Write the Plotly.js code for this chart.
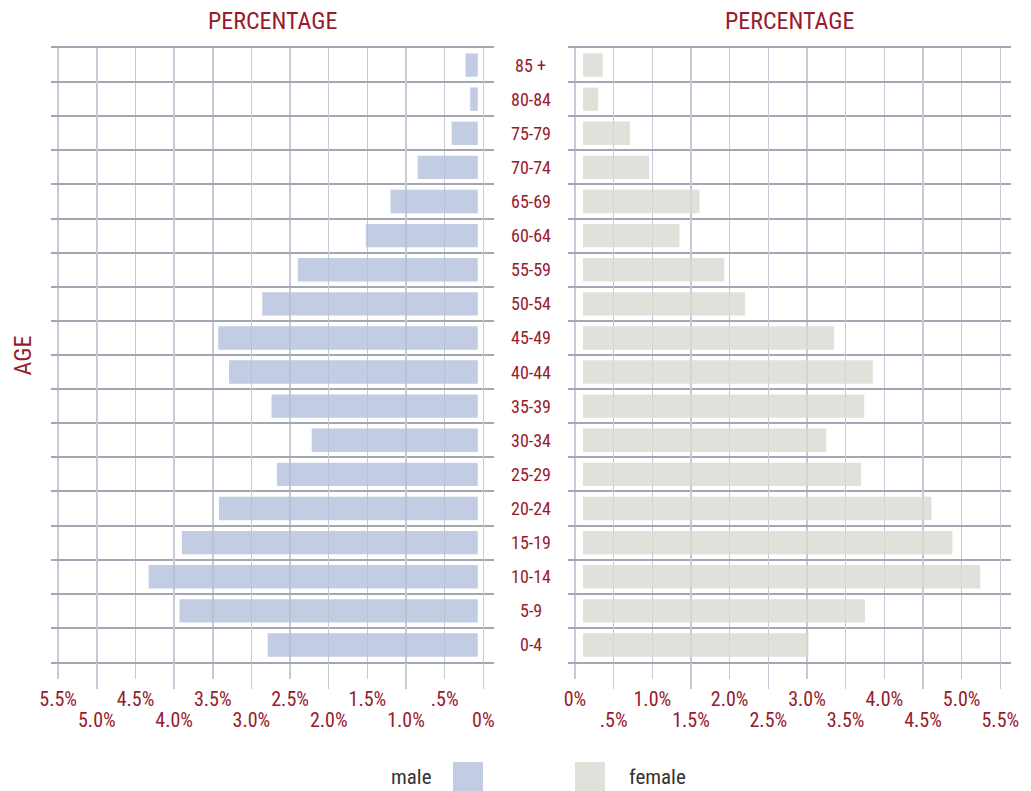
<!DOCTYPE html>
<html>
<head>
<meta charset="utf-8">
<script src="https://cdn.plot.ly/plotly-3.0.1.min.js"></script>
<style>
  html, body { margin: 0; padding: 0; background: #fff; }
  #chart { width: 1031px; height: 791px; }
</style>
</head>
<body>
<div id="chart"></div>
<script>
// ---- data ----
const ageGroups = ['0-4','5-9','10-14','15-19','20-24','25-29','30-34','35-39','40-44','45-49','50-54','55-59','60-64','65-69','70-74','75-79','80-84','85 +'];
const malePct   = [2.79, 3.93, 4.33, 3.90, 3.42, 2.67, 2.22, 2.74, 3.29, 3.43, 2.86, 2.40, 1.52, 1.20, 0.85, 0.41, 0.17, 0.23];
const femalePct = [3.02, 3.75, 5.24, 4.88, 4.61, 3.70, 3.25, 3.74, 3.85, 3.35, 2.20, 1.93, 1.35, 1.61, 0.96, 0.71, 0.30, 0.36];

const leftTopVals     = [5.5, 4.5, 3.5, 2.5, 1.5, 0.5];
const leftTopText     = ['5.5%', '4.5%', '3.5%', '2.5%', '1.5%', '.5%'];
const leftBottomVals  = [5, 4, 3, 2, 1, 0];
const leftBottomText  = ['5.0%', '4.0%', '3.0%', '2.0%', '1.0%', '0%'];
const rightTopVals    = [0, 1, 2, 3, 4, 5];
const rightTopText    = ['0%', '1.0%', '2.0%', '3.0%', '4.0%', '5.0%'];
const rightBottomVals = [0.5, 1.5, 2.5, 3.5, 4.5, 5.5];
const rightBottomText = ['.5%', '1.5%', '2.5%', '3.5%', '4.5%', '5.5%'];

const seriesNames = ['male', 'female'];
const axisTitle = 'PERCENTAGE';
const ageTitle = 'AGE';

// ---- style ----
const FONT = '"Roboto Condensed", "Liberation Sans Narrow", "DejaVu Sans Condensed", "Arial Narrow", sans-serif';
const RED = '#981a2d';
const GRID_V = '#c6c9d6';
const GRID_H = '#a3a7b4';
const MALE_COLOR = 'rgb(179,191,219)';
const FEMALE_COLOR = 'rgb(216,218,209)';
const MALE_SWATCH = '#c2cce2';
const FEMALE_SWATCH = '#e0e1da';
const maleGap = 0.072;
const femaleGap = 0.103;

const W = 1031, H = 791;
const leftDom = [51 / W, 494 / W];
const rightDom = [568.3 / W, 1011 / W];
const leftRange = [5.593, -0.138];
const rightRange = [-0.0866, 5.638];

const traces = [
  {
    type: 'bar', orientation: 'h', name: seriesNames[0],
    y: ageGroups, x: malePct.map(v => v - maleGap), base: maleGap,
    xaxis: 'x', yaxis: 'y', width: 0.685,
    marker: { color: MALE_COLOR, opacity: 0.8, line: { width: 0 } },
    hoverinfo: 'skip'
  },
  {
    type: 'bar', orientation: 'h', name: seriesNames[1],
    y: ageGroups, x: femalePct.map(v => v - femaleGap), base: femaleGap,
    xaxis: 'x2', yaxis: 'y2', width: 0.685,
    marker: { color: FEMALE_COLOR, opacity: 0.8, line: { width: 0 } },
    hoverinfo: 'skip'
  },
  // invisible carriers so the second tick rows (overlay axes) get drawn
  {
    type: 'scatter', mode: 'markers', x: malePct, y: ageGroups, xaxis: 'x3', yaxis: 'y',
    marker: { opacity: 0 }, hoverinfo: 'skip', showlegend: false
  },
  {
    type: 'scatter', mode: 'markers', x: femalePct, y: ageGroups, xaxis: 'x4', yaxis: 'y2',
    marker: { opacity: 0 }, hoverinfo: 'skip', showlegend: false
  }
];

const TICK_SIZE = 20;

function xAxis(domain, range, vals, text, len, standoff, extra) {
  return Object.assign({
    domain: domain, range: range, autorange: false,
    tickmode: 'array', tickvals: vals, ticktext: text,
    ticks: 'outside', ticklen: len, tickwidth: 1.5, tickcolor: GRID_V,
    showgrid: true, gridcolor: GRID_V, gridwidth: 1.5,
    zeroline: false, fixedrange: true,
    tickfont: { family: FONT, size: TICK_SIZE, color: RED },
    ticklabelstandoff: standoff
  }, extra || {});
}

function yAxis(anchor) {
  return {
    type: 'category', anchor: anchor, range: [-0.5, ageGroups.length - 0.5], autorange: false,
    tickson: 'boundaries', showticklabels: false, ticks: '',
    showgrid: true, gridcolor: GRID_H, gridwidth: 2,
    zeroline: false, showline: false, fixedrange: true
  };
}

const lineOpts = { showline: true, linecolor: GRID_H, linewidth: 2, mirror: true };

const annotations = [];
ageGroups.forEach((g, i) => {
  annotations.push({
    xref: 'paper', yref: 'y', x: 530.5 / W, y: i, text: g, showarrow: false,
    xanchor: 'center', yanchor: 'middle',
    font: { family: FONT, size: 18, color: RED }
  });
});
annotations.push({
  xref: 'x domain', yref: 'paper', x: 0.5, y: 1.044, text: axisTitle, showarrow: false,
  xanchor: 'center', yanchor: 'middle', font: { family: FONT, size: 24, color: RED }
});
annotations.push({
  xref: 'x2 domain', yref: 'paper', x: 0.5, y: 1.044, text: axisTitle, showarrow: false,
  xanchor: 'center', yanchor: 'middle', font: { family: FONT, size: 24, color: RED }
});
annotations.push({
  xref: 'paper', yref: 'paper', x: 22 / W, y: (662 - 355.5) / 614, text: ageTitle, showarrow: false,
  textangle: -90, xanchor: 'center', yanchor: 'middle', font: { family: FONT, size: 24, color: RED }
});
// legend texts
const legY = (662 - 777) / 614;
annotations.push({
  xref: 'paper', yref: 'paper', x: 434 / W, y: legY, text: seriesNames[0], showarrow: false,
  xanchor: 'right', yanchor: 'middle', font: { family: FONT, size: 21, color: '#333333' }
});
annotations.push({
  xref: 'paper', yref: 'paper', x: 627 / W, y: legY, text: seriesNames[1], showarrow: false,
  xanchor: 'left', yanchor: 'middle', font: { family: FONT, size: 21, color: '#333333' }
});

const shapes = [
  { type: 'rect', xref: 'paper', yref: 'paper', x0: 453 / W, x1: 483 / W, y0: (662 - 792) / 614, y1: (662 - 762) / 614,
    fillcolor: MALE_SWATCH, line: { width: 0 } },
  { type: 'rect', xref: 'paper', yref: 'paper', x0: 575 / W, x1: 605 / W, y0: (662 - 792) / 614, y1: (662 - 762) / 614,
    fillcolor: FEMALE_SWATCH, line: { width: 0 } }
];

const layout = {
  width: W, height: H,
  margin: { l: 0, r: 0, t: 48, b: 129, pad: 0 },
  paper_bgcolor: '#ffffff', plot_bgcolor: 'rgba(0,0,0,0)',
  showlegend: false, barmode: 'overlay',
  xaxis: xAxis(leftDom, leftRange, leftTopVals, leftTopText, 15, 3, Object.assign({ anchor: 'y' }, lineOpts)),
  xaxis3: xAxis(leftDom, leftRange, leftBottomVals, leftBottomText, 26, 14, { anchor: 'y', overlaying: 'x' }),
  xaxis2: xAxis(rightDom, rightRange, rightTopVals, rightTopText, 15, 3, Object.assign({ anchor: 'y2' }, lineOpts)),
  xaxis4: xAxis(rightDom, rightRange, rightBottomVals, rightBottomText, 26, 14, { anchor: 'y2', overlaying: 'x2' }),
  yaxis: yAxis('x'),
  yaxis2: yAxis('x2'),
  annotations: annotations,
  shapes: shapes
};

Plotly.newPlot('chart', traces, layout, { staticPlot: true, displayModeBar: false });
</script>
</body>
</html>
